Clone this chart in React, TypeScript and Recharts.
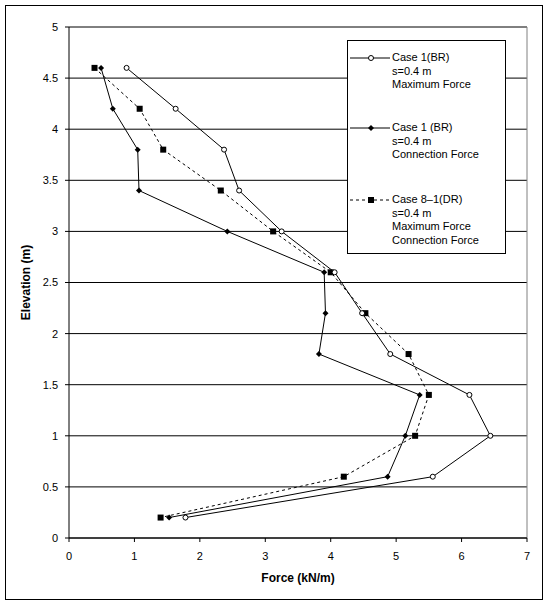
import { ScatterChart, Scatter, XAxis, YAxis, CartesianGrid, ReferenceLine, Legend, Label } from 'recharts'

const ELEVATIONS = [4.6, 4.2, 3.8, 3.4, 3.0, 2.6, 2.2, 1.8, 1.4, 1.0, 0.6, 0.2]
const CASE1_MAX = [0.88, 1.63, 2.37, 2.6, 3.25, 4.06, 4.48, 4.91, 6.12, 6.44, 5.56, 1.78]
const CASE1_CONN = [0.49, 0.67, 1.05, 1.07, 2.42, 3.9, 3.92, 3.82, 5.36, 5.14, 4.87, 1.53]
const CASE81_MAX_CONN = [0.39, 1.08, 1.44, 2.32, 3.12, 4.0, 4.53, 5.19, 5.5, 5.29, 4.2, 1.4]
const X_TICKS = [0, 1, 2, 3, 4, 5, 6, 7]
const Y_TICKS = [0, 0.5, 1, 1.5, 2, 2.5, 3, 3.5, 4, 4.5, 5]

const LEGEND_ITEMS = [
  { key: 'max', lines: ['Case 1(BR)', 's=0.4 m', 'Maximum Force'], dash: undefined, marker: 'circle' },
  { key: 'conn', lines: ['Case 1 (BR)', 's=0.4 m', 'Connection Force'], dash: undefined, marker: 'diamond' },
  { key: 'dr', lines: ['Case 8\u20131(DR)', 's=0.4 m', 'Maximum Force', 'Connection Force'], dash: '3 3', marker: 'square' },
]

const FONT = '"Liberation Sans", Arial, sans-serif'

const toPoints = (xs: number[]) => xs.map((x, i) => ({ x, y: ELEVATIONS[i] }))

function Marker({ kind, cx, cy }: { kind: string; cx: number; cy: number }) {
  if (kind === 'circle') return <circle cx={cx} cy={cy} r={2.5} fill="#fff" stroke="#000" strokeWidth={1} />
  if (kind === 'diamond')
    return <polygon points={`${cx},${cy - 3} ${cx + 3},${cy} ${cx},${cy + 3} ${cx - 3},${cy}`} fill="#000" />
  return <rect x={cx - 3} y={cy - 3} width={6} height={6} fill="#000" />
}

function LegendBox() {
  return (
    <div
      style={{
        border: '1px solid #000',
        background: '#fff',
        width: 157,
        height: 212,
        boxSizing: 'content-box',
        fontFamily: FONT,
        fontSize: 11,
        color: '#000',
        position: 'relative',
      }}
    >
      {LEGEND_ITEMS.map((item, idx) => (
        <div key={item.key} style={{ position: 'absolute', left: 0, top: [10, 80, 152][idx], width: 157 }}>
          <svg width={42} height={14} style={{ position: 'absolute', left: 2, top: 0 }}>
            <line x1={0} y1={7} x2={40} y2={7} stroke="#000" strokeWidth={1} strokeDasharray={item.dash} />
            <Marker kind={item.marker} cx={21} cy={7} />
          </svg>
          <div style={{ position: 'absolute', left: 44, top: 0, lineHeight: '13.5px', whiteSpace: 'nowrap' }}>
            {item.lines.map(l => (
              <div key={l}>{l}</div>
            ))}
          </div>
        </div>
      ))}
    </div>
  )
}

export default function App() {
  return (
    <div style={{ position: 'absolute', left: 0, top: 0, width: 547, height: 605, background: '#fff' }}>
      <div
        style={{
          position: 'absolute',
          left: 5,
          top: 5,
          width: 536,
          height: 593,
          border: '1px solid #000',
        }}
      />
      <ScatterChart width={547} height={605} margin={{ top: 27, right: 20, bottom: 27, left: 0 }}>
        <CartesianGrid horizontal vertical={false} stroke="#000" strokeOpacity={1} />
        <XAxis
          type="number"
          dataKey="x"
          domain={[0, 7]}
          ticks={X_TICKS}
          interval={0}
          height={40}
          tickSize={4}
          tickMargin={10}
          stroke="#000"
          tick={{ fill: '#000', fontSize: 11, fontFamily: FONT }}
        >
          <Label
            value="Force (kN/m)"
            position="insideBottom"
            offset={-4}
            style={{ fill: '#000', fontSize: 12, fontWeight: 'bold', fontFamily: FONT }}
          />
        </XAxis>
        <YAxis
          type="number"
          dataKey="y"
          domain={[0, 5]}
          ticks={Y_TICKS}
          interval={0}
          width={69}
          tickSize={4}
          tickMargin={7}
          stroke="#000"
          tick={{ fill: '#000', fontSize: 11, fontFamily: FONT }}
        >
          <Label
            value="Elevation (m)"
            angle={-90}
            position="insideLeft"
            offset={26}
            style={{ fill: '#000', fontSize: 12, fontWeight: 'bold', fontFamily: FONT, textAnchor: 'middle' }}
          />
        </YAxis>
        <ReferenceLine y={5} stroke="#808080" />
        <ReferenceLine x={7} stroke="#808080" />
        <Legend
          layout="horizontal"
          verticalAlign="middle"
          align="center"
          wrapperStyle={{ left: 347, top: 40, width: 159, height: 214 }}
          content={() => <LegendBox />}
        />
        <Scatter
          name="Case 8-1(DR)"
          data={toPoints(CASE81_MAX_CONN)}
          line={{ stroke: '#000', strokeWidth: 1, strokeDasharray: '3 3' }}
          lineType="joint"
          shape={(p: any) => <Marker kind="square" cx={p.cx} cy={p.cy} />}
          isAnimationActive={false}
        />
        <Scatter
          name="Case 1 (BR) Connection"
          data={toPoints(CASE1_CONN)}
          line={{ stroke: '#000', strokeWidth: 1 }}
          lineType="joint"
          shape={(p: any) => <Marker kind="diamond" cx={p.cx} cy={p.cy} />}
          isAnimationActive={false}
        />
        <Scatter
          name="Case 1(BR) Maximum"
          data={toPoints(CASE1_MAX)}
          line={{ stroke: '#000', strokeWidth: 1 }}
          lineType="joint"
          shape={(p: any) => <Marker kind="circle" cx={p.cx} cy={p.cy} />}
          isAnimationActive={false}
        />
      </ScatterChart>
    </div>
  )
}
